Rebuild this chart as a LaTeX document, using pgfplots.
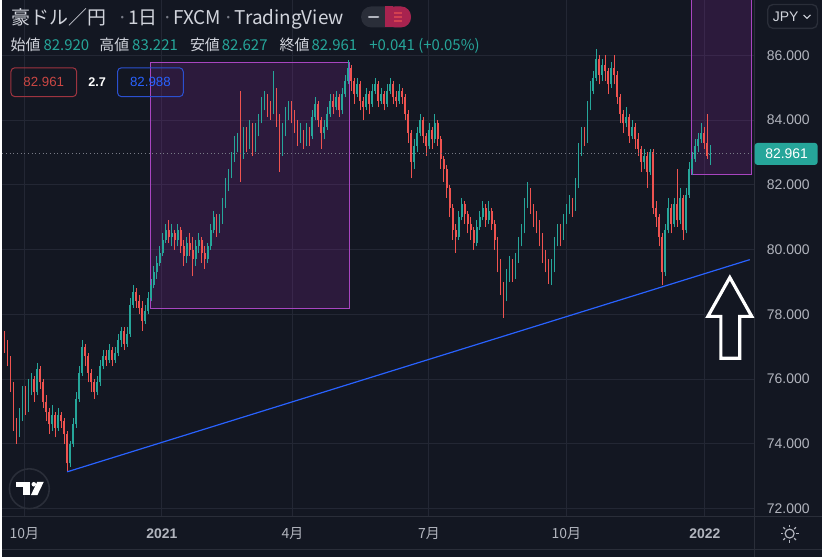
\documentclass[border=0pt]{standalone}
\usepackage{fontspec}
\setmainfont{Liberation Sans}
\newfontfamily\jp{Noto Sans CJK JP}
\usepackage{pgfplots}
\usepackage{pgfplotstable}
\usetikzlibrary{calc}
\pgfplotsset{compat=1.18}
\definecolor{bg}{HTML}{131722}
\definecolor{gridc}{HTML}{232734}
\definecolor{sepc}{HTML}{2A2E39}
\definecolor{txt}{HTML}{D1D4DC}
\definecolor{axtxt}{HTML}{B2B5BE}
\definecolor{dim}{HTML}{787B86}
\definecolor{upc}{HTML}{26A69A}
\definecolor{dnc}{HTML}{EF5350}
\definecolor{purp}{HTML}{9C27B0}
\definecolor{purpb}{HTML}{A845C0}
\definecolor{trend}{HTML}{2962FF}
\definecolor{boxred}{HTML}{9E3440}
\definecolor{boxblue}{HTML}{2B50D0}
\definecolor{pink}{HTML}{A8234F}

\pgfplotstableread{
x o h l c
2 77.3 77.5 76.8 77.0
5 77.0 77.2 76.4 76.6
8 76.6 76.7 75.6 75.8
11 75.8 75.9 74.4 74.6
14 74.6 74.8 74.0 74.3
17 74.3 75.1 74.2 74.9
20 74.9 75.8 74.7 75.6
23 75.6 75.8 74.9 75.2
26 75.2 76.0 75.0 75.8
29 75.8 76.2 75.5 76.0
32 76.0 76.1 75.3 75.6
35 75.6 76.5 75.5 76.3
38 76.3 76.4 75.7 75.9
41 75.9 76.0 75.1 75.3
44 75.3 75.5 74.7 75.0
47 75.0 75.1 74.3 74.6
50 74.6 75.2 74.4 74.9
53 74.9 75.0 74.2 74.5
56 74.5 75.1 74.4 74.9
59 74.9 75.0 74.5 74.7
62 74.7 74.8 74.0 74.3
65 74.3 74.4 73.15 73.4
68 73.4 74.1 73.3 74.0
71 74.0 74.8 73.9 74.6
74 74.6 75.6 74.5 75.4
77 75.4 76.4 75.3 76.2
80 76.2 77.2 76.1 77.0
83 77.0 77.1 76.4 76.7
86 76.7 76.8 75.9 76.2
89 76.2 76.3 75.6 75.9
92 75.9 76.0 75.4 75.6
95 75.6 76.1 75.5 75.9
98 75.9 76.6 75.8 76.4
101 76.4 76.9 76.3 76.7
104 76.7 76.9 76.4 76.6
107 76.6 77.1 76.5 76.9
110 76.9 77.0 76.4 76.6
113 76.6 77.0 76.5 76.8
116 76.8 77.4 76.7 77.2
119 77.2 77.6 77.0 77.5
122 77.5 77.6 76.9 77.1
125 77.1 77.6 77.0 77.4
128 77.4 78.5 77.3 78.3
131 78.3 78.9 78.2 78.7
134 78.7 78.8 78.2 78.4
137 78.4 78.6 78.0 78.2
140 78.2 78.4 77.5 77.8
143 77.8 78.3 77.7 78.1
146 78.1 78.7 78.0 78.5
149 78.5 79.1 78.4 78.9
152 78.9 79.5 78.8 79.3
155 79.3 79.8 79.1 79.6
158 79.6 80.1 79.5 79.9
161 79.9 80.5 79.8 80.3
164 80.3 80.8 80.2 80.6
167 80.6 80.9 80.2 80.4
170 80.4 80.8 80.1 80.5
173 80.5 80.6 80.0 80.3
176 80.3 80.8 80.1 80.6
179 80.6 80.7 79.9 80.1
182 80.1 80.3 79.5 79.8
185 79.8 80.4 79.6 80.2
188 80.2 80.5 79.8 80.0
191 80.0 80.4 79.2 79.7
194 79.7 80.3 79.5 80.1
197 80.1 80.5 79.9 80.3
200 80.3 80.4 79.6 79.9
203 79.9 80.1 79.4 79.7
206 79.7 80.2 79.6 80.1
209 80.1 80.8 80.0 80.6
212 80.6 81.2 80.5 81.0
215 81.0 81.1 80.4 80.7
218 80.7 81.1 80.5 80.9
221 80.9 81.6 80.8 81.4
224 81.4 82.2 81.3 82.0
227 82.0 82.5 81.8 82.3
230 82.3 83.0 82.2 82.8
233 82.8 83.5 82.7 83.3
236 83.3 83.6 83.0 83.4
239 83.4 84.9 82.1 83.0
242 83.0 83.8 82.8 83.6
245 83.6 83.8 83.0 83.3
248 83.3 84.0 83.1 83.8
251 83.8 83.9 82.9 83.1
254 83.1 83.9 83.0 83.7
257 83.7 84.2 83.5 84.0
260 84.0 84.7 83.9 84.5
263 84.5 84.9 84.3 84.7
266 84.7 84.8 84.1 84.4
269 84.4 84.6 84.0 84.3
272 84.3 85.5 84.2 84.9
275 84.9 85.0 83.8 84.1
278 84.1 84.2 82.4 83.2
281 83.2 83.9 82.9 83.6
284 83.6 84.4 83.5 84.2
287 84.2 84.6 84.0 84.5
290 84.5 84.6 83.9 84.2
293 84.2 84.3 83.6 83.9
296 83.9 84.0 83.2 83.5
299 83.5 83.9 83.3 83.6
302 83.6 83.7 83.1 83.3
305 83.3 83.9 83.2 83.7
308 83.7 83.8 83.2 83.5
311 83.5 84.3 83.4 84.1
314 84.1 84.7 84.0 84.5
317 84.5 84.6 83.8 84.0
320 84.0 84.1 83.1 83.6
323 83.6 84.0 83.4 83.8
326 83.8 84.4 83.7 84.2
329 84.2 84.8 84.1 84.6
332 84.6 84.8 84.2 84.4
335 84.4 84.9 84.3 84.7
338 84.7 84.8 84.1 84.3
341 84.3 85.0 84.2 84.8
344 84.8 85.4 84.7 85.2
347 85.2 85.85 85.1 85.6
350 85.6 85.7 84.9 85.2
353 85.2 85.3 84.5 84.8
356 84.8 85.3 84.7 85.1
359 85.1 85.2 84.3 84.6
362 84.6 84.7 84.0 84.4
365 84.4 85.0 84.3 84.8
368 84.8 84.9 84.2 84.5
371 84.5 85.1 84.4 84.9
374 84.9 85.3 84.8 85.1
377 85.1 85.2 84.4 84.6
380 84.6 85.0 84.5 84.8
383 84.8 84.9 84.3 84.5
386 84.5 85.1 84.4 84.9
389 84.9 85.3 84.8 85.1
392 85.1 85.2 84.5 84.7
395 84.7 84.9 84.4 84.6
398 84.6 85.1 84.5 84.9
401 84.9 85.0 84.5 84.7
404 84.7 84.8 84.0 84.2
407 84.2 84.3 83.3 83.6
410 83.6 83.7 82.2 82.7
413 82.7 83.4 82.5 83.2
416 83.2 83.8 83.0 83.6
419 83.6 84.2 83.5 84.0
422 84.0 84.1 83.3 83.5
425 83.5 83.6 82.9 83.2
428 83.2 83.9 83.1 83.7
431 83.7 83.8 83.1 83.4
434 83.4 84.2 83.3 83.9
437 83.9 84.0 83.2 83.4
440 83.4 83.5 82.5 82.8
443 82.8 82.9 82.1 82.5
446 82.5 82.6 81.6 81.9
449 81.9 82.0 81.0 81.3
452 81.3 81.4 80.3 80.6
455 80.6 80.8 79.9 80.4
458 80.4 81.2 80.3 81.0
461 81.0 81.6 80.9 81.4
464 81.4 81.5 80.8 81.1
467 81.1 81.2 80.5 80.8
470 80.8 81.0 80.3 80.6
473 80.6 80.7 80.0 80.2
476 80.2 80.9 80.1 80.7
479 80.7 81.2 80.6 81.0
482 81.0 81.5 80.9 81.3
485 81.3 81.4 80.7 80.9
488 80.9 81.5 80.8 81.2
491 81.2 81.3 80.6 80.8
494 80.8 80.9 80.0 80.3
497 80.3 80.4 79.3 79.6
500 79.6 79.7 78.6 78.9
503 78.9 79.0 77.9 78.5
506 78.5 79.4 78.4 79.2
509 79.2 79.8 79.0 79.6
512 79.6 79.7 79.0 79.2
515 79.2 79.9 79.1 79.7
518 79.7 80.4 79.6 80.2
521 80.2 80.8 80.1 80.6
524 80.6 81.6 80.5 81.4
527 81.4 82.1 81.3 81.8
530 81.8 81.9 81.1 81.3
533 81.3 81.4 80.7 81.0
536 81.0 81.2 80.5 80.8
539 80.8 80.9 80.1 80.4
542 80.4 80.5 79.6 79.9
545 79.9 80.0 79.3 79.6
548 79.6 79.7 78.95 79.2
551 79.2 79.7 78.9 79.4
554 79.4 80.4 79.3 80.2
557 80.2 80.8 80.1 80.6
560 80.6 80.8 80.1 80.4
563 80.4 81.1 80.3 80.9
566 80.9 81.4 80.8 81.2
569 81.2 81.7 81.1 81.5
572 81.5 81.6 81.0 81.3
575 81.3 82.2 81.2 82.0
578 82.0 83.3 81.9 83.0
581 83.0 83.8 82.9 83.5
584 83.5 83.8 83.2 83.4
587 83.4 84.6 83.3 84.4
590 84.4 85.2 84.3 84.9
593 84.9 85.5 84.8 85.3
596 85.3 86.2 85.2 85.9
599 85.9 86.0 85.1 85.4
602 85.4 85.9 85.2 85.7
605 85.7 86.0 85.2 85.5
608 85.5 85.6 84.8 85.1
611 85.1 85.8 85.0 85.6
614 85.6 86.0 85.1 85.4
617 85.4 85.5 84.5 84.7
620 84.7 84.8 83.9 84.2
623 84.2 84.3 83.6 83.9
626 83.9 84.4 83.8 84.1
629 84.1 84.2 83.3 83.5
632 83.5 84.0 83.4 83.8
635 83.8 83.9 83.1 83.4
638 83.4 83.6 82.9 83.1
641 83.1 83.2 82.4 82.7
644 82.7 83.1 82.5 82.9
647 82.9 83.0 81.9 82.4
650 82.4 83.1 82.3 83.0
653 83.0 83.1 81.1 81.3
656 81.3 81.5 80.7 81.0
659 81.0 81.1 80.1 80.4
662 80.4 80.5 78.9 79.3
665 79.3 80.8 79.2 80.6
668 80.6 81.6 80.5 81.3
671 81.3 81.4 80.5 80.8
674 80.8 81.6 80.7 81.4
677 81.4 82.5 80.7 80.9
680 80.9 81.9 80.8 81.6
683 81.6 81.7 80.3 80.6
686 80.6 81.9 80.5 81.7
689 81.7 82.7 81.6 82.5
692 82.5 83.0 82.3 82.8
695 82.8 83.4 82.7 83.2
698 83.2 83.6 83.0 83.4
701 83.4 83.9 83.3 83.6
704 83.6 83.8 83.1 83.3
707 83.3 84.2 82.8 82.9
710 82.92 83.221 82.627 82.961
}\ohlc

\begin{document}
\begin{tikzpicture}
\begin{scope}[x=0.75pt,y=-0.75pt]
\fill[bg] (0,0) rectangle (822,558);
\end{scope}
\begin{axis}[
  at={(0pt,-387.75pt)}, anchor=south west,
  width=566.25pt, height=387.75pt, scale only axis,
  xmin=0, xmax=755, ymin=71.7846, ymax=87.6923,
  axis line style={draw=none}, major tick length=0pt,
  xtick={22,160,291,428,566,705},
  xticklabels={{\jp 10月},{\bfseries 2021},{\jp 4月},{\jp 7月},{\jp 10月},{\bfseries 2022}},
  ytick={72,74,76,78,80,82,84,86},
  yticklabel pos=right,
  yticklabel={\pgfmathprintnumber[fixed,fixed zerofill,precision=3]{\tick}},
  /pgf/number format/assume math mode=true,
  grid=major, major grid style={gridc, line width=0.75pt},
  tick label style={font=\fontsize{10.5pt}{12pt}\selectfont, color=axtxt},
  yticklabel style={anchor=west, inner sep=0pt, xshift=9pt},
  xticklabel style={anchor=center, inner sep=0pt, yshift=-13.5pt},
  clip=false,
  candle/.style={draw=none, mark=none, forget plot,
    error bars/.cd, y dir=plus, y explicit, error mark=none},
]
% purple zones
\fill[purp, fill opacity=0.19] (axis cs:149,78.185) rectangle (axis cs:348,85.785);
\draw[purpb, line width=0.75pt] (axis cs:149,78.185) rectangle (axis cs:348,85.785);
\fill[purp, fill opacity=0.19] (axis cs:692,82.308) rectangle (axis cs:752,87.6923);
\draw[purpb, line width=0.75pt] (axis cs:692,87.6923) -- (axis cs:692,82.308) -- (axis cs:752,82.308) -- (axis cs:752,87.6923);
% up candles: wick then body
\addplot[restrict expr to domain={\thisrow{c}-\thisrow{o}}{0:100},
  candle, error bar style={draw=upc, line width=0.6pt}]
  table[x=x, y=l, y error plus expr=\thisrow{h}-\thisrow{l}] {\ohlc};
\addplot[restrict expr to domain={\thisrow{c}-\thisrow{o}}{0:100},
  candle, error bar style={draw=upc, line width=1.25pt}]
  table[x=x, y=o, y error plus expr=\thisrow{c}-\thisrow{o}] {\ohlc};
% down candles
\addplot[restrict expr to domain={\thisrow{o}-\thisrow{c}}{0.0001:100},
  candle, error bar style={draw=dnc, line width=0.6pt}]
  table[x=x, y=l, y error plus expr=\thisrow{h}-\thisrow{l}] {\ohlc};
\addplot[restrict expr to domain={\thisrow{o}-\thisrow{c}}{0.0001:100},
  candle, error bar style={draw=dnc, line width=1.25pt}]
  table[x=x, y=c, y error plus expr=\thisrow{o}-\thisrow{c}] {\ohlc};
% trend line
\addplot[trend, line width=0.9pt, mark=none, forget plot] coordinates {(65,73.138) (750,79.69)};
% last price dotted line
\draw[dim, dotted, line width=0.75pt] (axis cs:0,82.961) -- (axis cs:755,82.961);
\end{axis}
\begin{scope}[x=0.75pt,y=-0.75pt]
% separators
\draw[sepc, line width=0.75pt] (755,0) -- (755,558);
\draw[sepc, line width=0.75pt] (0,517.5) -- (822,517.5);
\draw[sepc, line width=0.75pt] (0,550.5) -- (822,550.5);
% title
\begin{scope}[every node/.style={anchor=base west, inner sep=0pt}]
\node[text=txt, font={\jp\fontsize{14.25pt}{16pt}\selectfont}] at (9,24) {豪ドル／円};
\node[text=dim, font={\jp\fontsize{14.25pt}{16pt}\selectfont}] at (115,24) {·};
\node[text=txt, font={\jp\fontsize{14.25pt}{16pt}\selectfont}] at (126,24) {1日};
\node[text=dim, font={\jp\fontsize{14.25pt}{16pt}\selectfont}] at (160,24) {·};
\node[text=txt, font={\jp\fontsize{14.25pt}{16pt}\selectfont}] at (171,24) {FXCM};
\node[text=dim, font={\jp\fontsize{14.25pt}{16pt}\selectfont}] at (222,24) {·};
\node[text=txt, font={\jp\fontsize{14.25pt}{16pt}\selectfont}] at (233,24) {TradingView};
% OHLC line
\node[text=txt, font={\jp\fontsize{11.25pt}{13pt}\selectfont}] at (8,50) {始値};
\node[text=upc, font={\jp\fontsize{11.25pt}{13pt}\selectfont}] at (41,50) {82.920};
\node[text=txt, font={\jp\fontsize{11.25pt}{13pt}\selectfont}] at (97,50) {高値};
\node[text=upc, font={\jp\fontsize{11.25pt}{13pt}\selectfont}] at (130,50) {83.221};
\node[text=txt, font={\jp\fontsize{11.25pt}{13pt}\selectfont}] at (188,50) {安値};
\node[text=upc, font={\jp\fontsize{11.25pt}{13pt}\selectfont}] at (220,50) {82.627};
\node[text=txt, font={\jp\fontsize{11.25pt}{13pt}\selectfont}] at (278,50) {終値};
\node[text=upc, font={\jp\fontsize{11.25pt}{13pt}\selectfont}] at (310,50) {82.961};
\node[text=upc, font={\jp\fontsize{11.25pt}{13pt}\selectfont}] at (368,50) {+0.041 (+0.05\%)};
\end{scope}
% toggle icon
\fill[sepc, rounded corners=7.5pt] (360,6) rectangle (410,27);
\fill[pink, rounded corners=7.5pt] (384,6) rectangle (410,27);
\fill[pink] (384,6) rectangle (392,27);
\draw[axtxt, line width=2pt, line cap=round] (368,16.5) -- (377,16.5);
\draw[dnc!60!pink, line width=1pt] (393,12.5) -- (401,12.5) (393,16.5) -- (401,16.5) (393,20.5) -- (401,20.5);
% value boxes
\draw[boxred, line width=0.75pt, rounded corners=3pt] (8.5,67.5) rectangle (74.5,96.5);
\node[text=dnc!85!black, font=\fontsize{10pt}{12pt}\selectfont] at (41.5,82) {82.961};
\node[text=white, font=\bfseries\fontsize{9.5pt}{12pt}\selectfont] at (95,82) {2.7};
\draw[boxblue, line width=0.75pt, rounded corners=3pt] (115.5,67.5) rectangle (181.5,96.5);
\node[text=trend, font=\fontsize{10pt}{12pt}\selectfont] at (148.5,82) {82.988};
% JPY box
\draw[sepc, line width=1pt, rounded corners=4pt] (768,4) rectangle (818,28);
\node[text=txt, font=\fontsize{10.5pt}{12pt}\selectfont, anchor=west, inner sep=0pt] at (773,16) {JPY};
\draw[txt, line width=0.8pt] (804,14.5) -- (807.5,18) -- (811,14.5);
% last price label
\fill[upc, rounded corners=2pt] (755,143) rectangle (818,165);
\node[text=white, font=\fontsize{10.5pt}{12pt}\selectfont] at (787,154) {82.961};
% arrow
\draw[white, fill=bg, line width=2.4pt, line join=miter] (730,278) -- (752,317) -- (740,317) -- (740,359) -- (721,359) -- (721,317) -- (708,317) -- cycle;
% TV logo
\draw[sepc, line width=1.2pt] (27,490) circle (20);
\fill[white] (14,483) rectangle (28,488.5);
\fill[white] (21,488.5) rectangle (28,496.5);
\fill[white] (31.5,485.5) circle (2.3);
\fill[white] (35,483) -- (41.5,483) -- (35,496.5) -- (28.5,496.5) -- cycle;
% settings icon
\draw[axtxt, line width=0.9pt] (790,535) circle (4.5);
\foreach \a in {0,45,...,315} {\draw[axtxt, line width=0.9pt] ($(790,535)+(\a:6.5)$) -- ($(790,535)+(\a:9)$);}
\end{scope}
\end{tikzpicture}
\end{document}
